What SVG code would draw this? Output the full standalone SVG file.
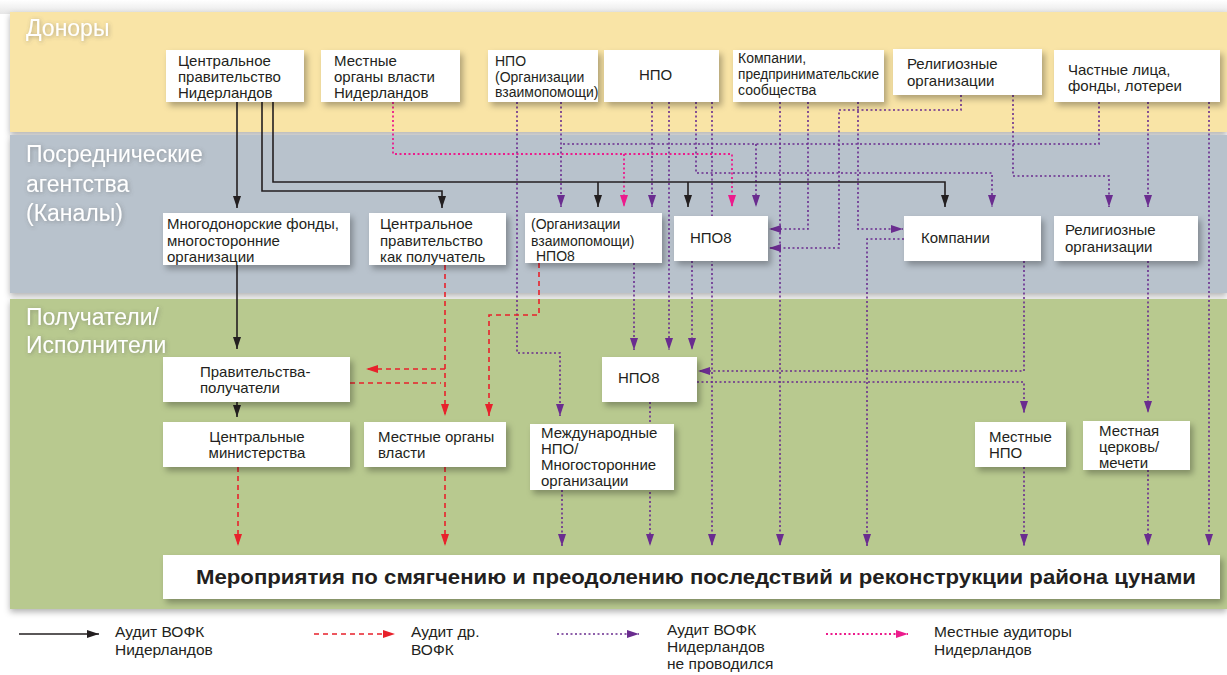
<svg xmlns="http://www.w3.org/2000/svg" width="1227" height="675" viewBox="0 0 1227 675">
<defs>
  <linearGradient id="topg" x1="0" y1="0" x2="0" y2="1">
    <stop offset="0" stop-color="#ffffff"/>
    <stop offset="1" stop-color="#e6e6e6"/>
  </linearGradient>
  <filter id="sh" x="-10%" y="-20%" width="130%" height="160%">
    <feDropShadow dx="3" dy="4" stdDeviation="3" flood-color="#000" flood-opacity="0.3"/>
  </filter>
  <filter id="bsh" x="-5%" y="-5%" width="110%" height="120%">
    <feDropShadow dx="0" dy="3" stdDeviation="3" flood-color="#000" flood-opacity="0.3"/>
  </filter>
  <filter id="tsh" x="-10%" y="-30%" width="120%" height="160%">
    <feDropShadow dx="1" dy="1" stdDeviation="2" flood-color="#555" flood-opacity="0.45"/>
  </filter>
  <marker id="ak" viewBox="0 0 12 8" refX="12" refY="4" markerWidth="12" markerHeight="8" markerUnits="userSpaceOnUse" orient="auto">
    <path d="M0,0 L12,4 L0,8 z" fill="#231f20"/>
  </marker>
  <marker id="ar" viewBox="0 0 12 8" refX="12" refY="4" markerWidth="12" markerHeight="8" markerUnits="userSpaceOnUse" orient="auto">
    <path d="M0,0 L12,4 L0,8 z" fill="#e8212b"/>
  </marker>
  <marker id="ap" viewBox="0 0 12 8" refX="12" refY="4" markerWidth="12" markerHeight="8" markerUnits="userSpaceOnUse" orient="auto">
    <path d="M0,0 L12,4 L0,8 z" fill="#6a2c8f"/>
  </marker>
  <marker id="am" viewBox="0 0 12 8" refX="12" refY="4" markerWidth="12" markerHeight="8" markerUnits="userSpaceOnUse" orient="auto">
    <path d="M0,0 L12,4 L0,8 z" fill="#ec1b8c"/>
  </marker>
</defs>
<style>
  .box{fill:#ffffff;filter:url(#sh)}
  .t{font-family:"Liberation Sans",Arial,sans-serif;font-size:15px;fill:#231f20}
  .ts{font-family:"Liberation Sans",Arial,sans-serif;font-size:14px;fill:#231f20}
  .bl{font-family:"Liberation Sans",Arial,sans-serif;font-size:23px;fill:#ffffff;filter:url(#tsh)}
  .lg{font-family:"Liberation Sans",Arial,sans-serif;font-size:15.5px;fill:#231f20}
  .k path,.r path,.p path,.m path{fill:none}
  .r path{stroke:#e8212b;stroke-width:1.6;stroke-dasharray:5 4}
  .p path{stroke:#6a2c8f;stroke-width:1.6;stroke-dasharray:2 2.5}
  .m path{stroke:#ec1b8c;stroke-width:1.8;stroke-dasharray:2 2.5}
  .k path{stroke:#231f20;stroke-width:1.6}
  .k .a{marker-end:url(#ak)}
  .r .a{marker-end:url(#ar)}
  .p .a{marker-end:url(#ap)}
  .m .a{marker-end:url(#am)}
</style>

<!-- background -->
<rect x="0" y="0" width="1227" height="675" fill="#ffffff"/>
<rect x="0" y="0" width="1227" height="14" fill="url(#topg)"/>

<!-- bands -->
<g id="bands">
  <rect x="10" y="12" width="1217" height="120" fill="#f9e4a6" filter="url(#bsh)"/>
  <rect x="10" y="135" width="1217" height="158" fill="#b8c2cc" filter="url(#bsh)"/>
  <rect x="10" y="299" width="1217" height="310" fill="#b8c98f" filter="url(#bsh)"/>
  <text class="bl" x="26" y="36">Доноры</text>
  <text class="bl" x="26" y="162">Посреднические</text>
  <text class="bl" x="26" y="192">агентства</text>
  <text class="bl" x="26" y="221">(Каналы)</text>
  <text class="bl" x="26" y="325">Получатели/</text>
  <text class="bl" x="26" y="353">Исполнители</text>
</g>

<!-- connectors -->
<g id="connectors">
  <g class="p">
    <path class="a" d="M517,102 V353 H560 V416"/>
    <path class="a" d="M561,102 V207"/>
    <path d="M1099,102 V144 H561"/>
    <path class="a" d="M756,144 V207"/>
    <path class="a" d="M652,102 V207"/>
    <path class="a" d="M669,102 V350"/>
    <path class="a" d="M696,102 V173 H992 V207"/>
    <path class="a" d="M712,102 V546"/>
    <path class="a" d="M780,102 V546"/>
    <path class="a" d="M808,102 V229 H769"/>
    <path class="a" d="M858,102 V229 H903"/>
    <path class="a" d="M961,95 V110 H839 V248 H769"/>
    <path class="a" d="M1013,95 V176 H1109 V207"/>
    <path class="a" d="M1148,102 V207"/>
    <path class="a" d="M1209,102 V546"/>
    <path class="a" d="M634,263 V350"/>
    <path class="a" d="M692,261 V350"/>
    <path class="a" d="M904,239 H867 V546"/>
    <path class="a" d="M1024,261 V371 H698"/>
    <path class="a" d="M697,382 H1024 V413"/>
    <path class="a" d="M650,402 V546"/>
    <path class="a" d="M562,490 V546"/>
    <path class="a" d="M1024,467 V546"/>
    <path class="a" d="M1148,261 V413"/>
    <path class="a" d="M1148,470 V546"/>
  </g>
  <g class="m">
    <path class="a" d="M393,102 V154 H732 V207"/>
    <path class="a" d="M624,154 V207"/>
  </g>
  <g class="r">
    <path class="a" d="M445,265 V416"/>
    <path class="a" d="M445,369 H366"/>
    <path d="M350,383 H441"/>
    <path class="a" d="M539,263 V315 H489 V416"/>
    <path class="a" d="M238,467 V546"/>
    <path class="a" d="M445,467 V546"/>
  </g>
  <g class="k">
    <path class="a" d="M237,102 V208"/>
    <path class="a" d="M237,265 V349"/>
    <path class="a" d="M237,402 V417"/>
    <path class="a" d="M262,102 V191 H442 V208"/>
    <path class="a" d="M273,102 V182 H945 V207"/>
    <path class="a" d="M598,182 V207"/>
    <path class="a" d="M688,182 V207"/>
  </g>
</g>

<!-- donor nodes -->
<g id="d1"><rect class="box" x="166" y="50" width="138" height="52"/>
  <text class="t" x="178" y="66">Центральное</text><text class="t" x="178" y="82">правительство</text><text class="t" x="178" y="98">Нидерландов</text></g>
<g id="d2"><rect class="box" x="321" y="50" width="139" height="52"/>
  <text class="t" x="334" y="66">Местные</text><text class="t" x="334" y="82">органы власти</text><text class="t" x="334" y="98">Нидерландов</text></g>
<g id="d3"><rect class="box" x="488" y="50" width="110" height="52"/>
  <text class="ts" x="495" y="66">НПО</text><text class="ts" x="495" y="82">(Организации</text><text class="ts" x="495" y="97">взаимопомощи)</text></g>
<g id="d4"><rect class="box" x="604" y="50" width="115" height="52"/>
  <text class="t" x="639" y="80">НПО</text></g>
<g id="d5"><rect class="box" x="733" y="50" width="151" height="52"/>
  <text class="ts" x="738" y="63">Компании,</text><text class="ts" x="738" y="79" textLength="141" lengthAdjust="spacingAndGlyphs">предпринимательские</text><text class="ts" x="738" y="95">сообщества</text></g>
<g id="d6"><rect class="box" x="893" y="49" width="149" height="46"/>
  <text class="t" x="907" y="69">Религиозные</text><text class="t" x="907" y="86">организации</text></g>
<g id="d7"><rect class="box" x="1054" y="50" width="166" height="52"/>
  <text class="t" x="1068" y="75">Частные лица,</text><text class="t" x="1068" y="91">фонды, лотереи</text></g>

<!-- channel nodes -->
<g id="c1"><rect class="box" x="163" y="213" width="187" height="52"/>
  <text class="t" x="167" y="229">Многодонорские фонды,</text><text class="t" x="167" y="246">многосторонние</text><text class="t" x="167" y="262">организации</text></g>
<g id="c2"><rect class="box" x="369" y="213" width="137" height="52"/>
  <text class="t" x="380" y="229">Центральное</text><text class="t" x="380" y="246">правительство</text><text class="t" x="380" y="262">как получатель</text></g>
<g id="c3"><rect class="box" x="525" y="213" width="137" height="50"/>
  <text class="ts" x="531" y="229">(Организации</text><text class="ts" x="531" y="246">взаимопомощи)</text><text class="ts" x="536" y="261">НПО8</text></g>
<g id="c4"><rect class="box" x="674" y="216" width="94" height="45"/>
  <text class="t" x="690" y="243">НПО8</text></g>
<g id="c5"><rect class="box" x="904" y="216" width="137" height="45"/>
  <text class="t" x="921" y="243">Компании</text></g>
<g id="c6"><rect class="box" x="1054" y="216" width="144" height="45"/>
  <text class="t" x="1065" y="235">Религиозные</text><text class="t" x="1065" y="252">организации</text></g>

<!-- recipient nodes -->
<g id="r1"><rect class="box" x="163" y="357" width="187" height="45"/>
  <text class="t" x="200" y="377">Правительства-</text><text class="t" x="200" y="393">получатели</text></g>
<g id="r2"><rect class="box" x="163" y="422" width="187" height="45"/>
  <text class="t" x="257" y="442" text-anchor="middle">Центральные</text><text class="t" x="257" y="458" text-anchor="middle">министерства</text></g>
<g id="r3"><rect class="box" x="364" y="422" width="142" height="45"/>
  <text class="t" x="378" y="442">Местные органы</text><text class="t" x="378" y="458">власти</text></g>
<g id="r4"><rect class="box" x="530" y="424" width="144" height="66"/>
  <text class="t" x="541" y="438">Международные</text><text class="t" x="541" y="454">НПО/</text><text class="t" x="541" y="470">Многосторонние</text><text class="t" x="541" y="486">организации</text></g>
<g id="r5"><rect class="box" x="602" y="357" width="95" height="45"/>
  <text class="t" x="618" y="383">НПО8</text></g>
<g id="r6"><rect class="box" x="975" y="422" width="91" height="45"/>
  <text class="t" x="989" y="442">Местные</text><text class="t" x="989" y="458">НПО</text></g>
<g id="r7"><rect class="box" x="1083" y="421" width="107" height="49"/>
  <text class="t" x="1099" y="436">Местная</text><text class="t" x="1099" y="452">церковь/</text><text class="t" x="1099" y="468">мечети</text></g>

<!-- activities -->
<g id="act"><rect class="box" x="163" y="555" width="1057" height="44"/>
  <text x="196" y="584" textLength="1000" lengthAdjust="spacingAndGlyphs" style="font-family:'Liberation Sans',Arial,sans-serif;font-size:20.5px;font-weight:bold;fill:#231f20">Мероприятия по смягчению и преодолению последствий и реконструкции района цунами</text></g>

<!-- legend -->
<g id="legend">
  <g class="k"><path class="a" d="M19,634 H99"/></g>
  <g class="r"><path class="a" d="M314,634 H395"/></g>
  <g class="p"><path class="a" d="M557,634 H639"/></g>
  <g class="m"><path class="a" d="M826,634 H908"/></g>
  <text class="lg" x="115" y="637">Аудит ВОФК</text><text class="lg" x="115" y="655">Нидерландов</text>
  <text class="lg" x="411" y="637">Аудит др.</text><text class="lg" x="411" y="655">ВОФК</text>
  <text class="lg" x="667" y="635">Аудит ВОФК</text><text class="lg" x="667" y="652">Нидерландов</text><text class="lg" x="667" y="669">не проводился</text>
  <text class="lg" x="934" y="637">Местные аудиторы</text><text class="lg" x="934" y="655">Нидерландов</text>
</g>
</svg>
